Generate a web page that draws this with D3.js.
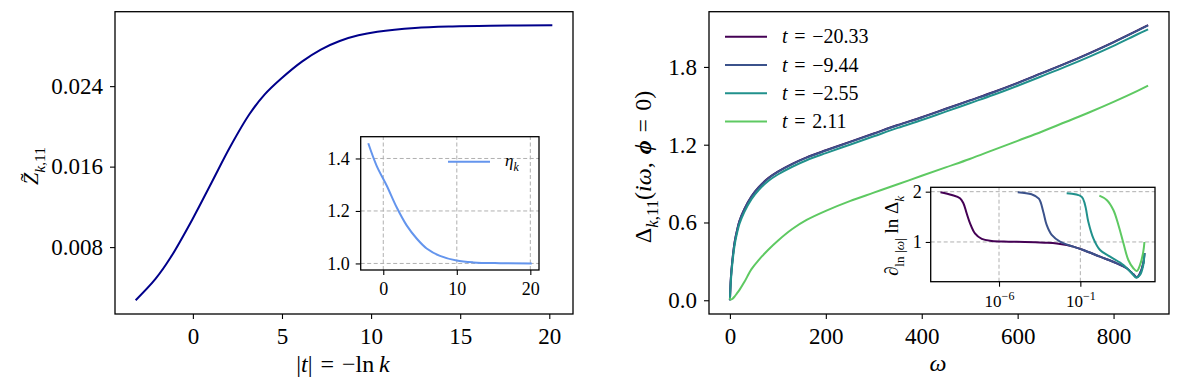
<!DOCTYPE html>
<html lang="en">
<head>
<meta charset="UTF-8">
<script src="https://d3js.org/d3.v7.min.js"></script>
<style>
  body { margin: 0; background: #fff; }
  svg text { font-family: "Liberation Serif", "DejaVu Serif", serif; fill: #000; white-space: pre; }
</style>
</head>
<body>
<svg width="1177" height="392"></svg>
<script>
// ---------- data ----------
// left panel: Z~_{k,11} against |t|
const zT   = [-3.21, -2.11, -1.27, 0, 1.06, 2.11, 3.17, 4.02, 4.96, 6.12, 7.18, 8.24, 9.29, 10.35, 12.46, 14.57, 16.68, 20.17];
const zVal = [0.00272, 0.00481, 0.00691, 0.01085, 0.01445, 0.01802, 0.0212, 0.02316, 0.02476, 0.02644, 0.02764, 0.02849, 0.02905, 0.0294, 0.02978, 0.02994, 0.03001, 0.03005];
// left inset: eta_k
const etaT   = [-2.04, -0.9, 0.46, 1.82, 3.18, 4.54, 5.9, 7.71, 9.98, 12.24, 15.88, 20.19];
const etaVal = [1.458, 1.372, 1.297, 1.214, 1.145, 1.095, 1.057, 1.029, 1.011, 1.004, 1.001, 1.0];

// right panel: Delta_{k,11}(i omega) for four t
const tLabels = ["\u221220.33", "\u22129.44", "\u22122.55", "2.11"];
const colors  = ["#440154", "#3b528b", "#21918c", "#5ec962"];
const omega = [0, 2, 5, 10, 15, 20, 30, 45, 60, 80, 100, 130, 160, 200, 250, 300, 350, 400, 450, 500, 550, 600, 650, 700, 750, 800, 850, 872];
const deltaA = [0, 0.172, 0.302, 0.452, 0.542, 0.612, 0.702, 0.802, 0.872, 0.942, 0.992, 1.052, 1.102, 1.157, 1.222, 1.287, 1.352, 1.412, 1.477, 1.542, 1.607, 1.677, 1.752, 1.827, 1.907, 1.992, 2.082, 2.123];
const deltaB = [0, 0.17, 0.30, 0.45, 0.54, 0.61, 0.70, 0.80, 0.87, 0.94, 0.99, 1.05, 1.10, 1.155, 1.22, 1.285, 1.35, 1.41, 1.475, 1.54, 1.605, 1.675, 1.75, 1.825, 1.905, 1.99, 2.08, 2.12];
const deltaC = [0, 0.15, 0.28, 0.43, 0.52, 0.59, 0.68, 0.78, 0.85, 0.92, 0.97, 1.03, 1.08, 1.135, 1.20, 1.265, 1.33, 1.39, 1.455, 1.52, 1.585, 1.655, 1.728, 1.802, 1.88, 1.963, 2.052, 2.09];
const deltaD = [0.02, 0.005, 0.01, 0.03, 0.055, 0.08, 0.14, 0.24, 0.31, 0.39, 0.46, 0.55, 0.62, 0.69, 0.765, 0.83, 0.895, 0.96, 1.025, 1.09, 1.16, 1.23, 1.30, 1.375, 1.45, 1.53, 1.615, 1.655];

// right inset: d ln Delta / d ln|omega|, x given as log10(omega)
const inLogA = [-9.6, -8.9, -8.4, -8.19, -7.99, -7.78, -7.48, -7.06, -6.45, -5.43, -4.4, -3.2, -2.45, -1.84, -1.43, -0.82, 0.21, 1.24, 1.85, 2.26, 2.47, 2.67, 2.87, 2.94];
const inValA = [1.99, 1.935, 1.87, 1.77, 1.57, 1.37, 1.17, 1.06, 1.02, 1.006, 1.0, 0.985, 0.97, 0.94, 0.907, 0.841, 0.708, 0.576, 0.477, 0.357, 0.298, 0.378, 0.576, 0.78];
const inLogB = [-4.85, -4.0, -3.55, -3.28, -3.07, -2.76, -2.25, -1.43, -0.82, 0.21, 1.24, 1.85, 2.26, 2.47, 2.67, 2.87, 2.94];
const inValB = [1.99, 1.948, 1.86, 1.6, 1.338, 1.139, 1.006, 0.907, 0.841, 0.708, 0.576, 0.477, 0.357, 0.298, 0.378, 0.576, 0.78];
const inLogC = [-1.84, -0.92, -0.71, -0.51, -0.2, 0.21, 0.83, 1.65, 2.16, 2.43, 2.67, 2.87, 2.94];
const inValC = [1.968, 1.90, 1.736, 1.404, 1.073, 0.841, 0.708, 0.543, 0.378, 0.29, 0.344, 0.543, 0.775];
const inLogD = [0.17, 0.62, 1.03, 1.34, 1.65, 1.95, 2.26, 2.47, 2.67, 2.87, 2.94];
const inValD = [1.92, 1.835, 1.636, 1.338, 0.974, 0.642, 0.477, 0.424, 0.543, 0.807, 1.0];

// ticks
const zTicksX = [0, 5, 10, 15, 20];
const zTicksY = [0.008, 0.016, 0.024];
const etaTicksX = [0, 10, 20];
const etaTicksY = [1.0, 1.2, 1.4];
const dTicksX = [0, 200, 400, 600, 800];
const dTicksY = [0.0, 0.6, 1.2, 1.8];
const inTicksX = [-6, -1];   // powers of ten
const inTicksY = [1, 2];

// ---------- helpers ----------
const svg = d3.select("svg");
svg.append("rect").attr("width", 1177).attr("height", 392).attr("fill", "#fff");

function zip(a, b) { return a.map((v, i) => [v, b[i]]); }

function styleAxis(g, size) {
  g.select(".domain").remove();
  g.selectAll(".tick line").attr("stroke", "#000").attr("stroke-width", 1.1);
  g.selectAll(".tick text").attr("font-size", size);
}

function frame(x, y) {
  return svg.append("rect")
    .attr("x", x.range()[0]).attr("y", y.range()[1])
    .attr("width", x.range()[1] - x.range()[0])
    .attr("height", y.range()[0] - y.range()[1])
    .attr("fill", "none").attr("stroke", "#000").attr("stroke-width", 1.3);
}

function bg(x, y) {
  svg.append("rect")
    .attr("x", x.range()[0]).attr("y", y.range()[1])
    .attr("width", x.range()[1] - x.range()[0])
    .attr("height", y.range()[0] - y.range()[1])
    .attr("fill", "#fff");
}

// parts: {s, it, b, sub}
function mathText(sel, parts, size) {
  let shift = 0;
  parts.forEach(p => {
    const ts = sel.append("tspan").text(p.s);
    if (p.it) ts.style("font-style", "italic");
    if (p.b) ts.style("font-weight", "bold");
    const want = p.sub ? size * 0.3 : 0;
    if (want !== shift) { ts.attr("dy", want - shift); shift = want; }
    if (p.sub) ts.attr("font-size", size * 0.7);
  });
  return sel;
}

function grid(x, y, xs, ys) {
  const g = svg.append("g").attr("stroke", "#b0b0b0").attr("stroke-width", 1).attr("stroke-dasharray", "4,2.5");
  xs.forEach(v => g.append("line").attr("x1", x(v)).attr("x2", x(v)).attr("y1", y.range()[0]).attr("y2", y.range()[1]));
  ys.forEach(v => g.append("line").attr("y1", y(v)).attr("y2", y(v)).attr("x1", x.range()[0]).attr("x2", x.range()[1]));
}

const smooth = d3.curveCatmullRom.alpha(0.5);

// ---------- left panel ----------
const xL = d3.scaleLinear().domain([-4.37, 21.33]).range([115, 573]);
const yL = d3.scaleLinear().domain([0.00135, 0.0314]).range([314, 11.7]);

svg.append("path")
  .datum(zip(zT, zVal))
  .attr("fill", "none").attr("stroke", "#00008b").attr("stroke-width", 2)
  .attr("d", d3.line().x(d => xL(d[0])).y(d => yL(d[1])).curve(smooth));

svg.append("g").attr("transform", "translate(0,314)")
  .call(d3.axisBottom(xL).tickValues(zTicksX).tickSize(5).tickPadding(9).tickSizeOuter(0))
  .call(g => styleAxis(g, 23));
svg.append("g").attr("transform", "translate(115,0)")
  .call(d3.axisLeft(yL).tickValues(zTicksY).tickFormat(d3.format(".3f")).tickSize(5).tickPadding(7).tickSizeOuter(0))
  .call(g => styleAxis(g, 23));
frame(xL, yL);

// axis labels
mathText(svg.append("text").attr("x", 343).attr("y", 372).attr("text-anchor", "middle").attr("font-size", 24),
  [{s: "|"}, {s: "t", it: true}, {s: "|\u2004=\u2004\u2212ln\u2009"}, {s: "k", it: true}], 24);

const zLab = svg.append("text").attr("transform", "translate(38,166) rotate(-90)")
  .attr("text-anchor", "middle").attr("font-size", 22);
mathText(zLab, [{s: "Z", it: true}, {s: "k", it: true, sub: true}, {s: ",11", sub: true}], 22);
// tilde over the Z
{
  const ext = zLab.node().getExtentOfChar(0);
  svg.append("text").attr("transform", "translate(38,166) rotate(-90)")
    .attr("x", ext.x + ext.width * 0.62).attr("y", -3)
    .attr("text-anchor", "middle").attr("font-size", 22).text("\u02dc");
}

// ---------- left inset ----------
const xI = d3.scaleLinear().domain([-3.07, 21.18]).range([360.7, 539]);
const yI = d3.scaleLinear().domain([0.975, 1.483]).range([270, 136.7]);
bg(xI, yI);
grid(xI, yI, etaTicksX, etaTicksY);
svg.append("path")
  .datum(zip(etaT, etaVal))
  .attr("fill", "none").attr("stroke", "#6495ed").attr("stroke-width", 2)
  .attr("d", d3.line().x(d => xI(d[0])).y(d => yI(d[1])).curve(smooth));
svg.append("g").attr("transform", "translate(0,270)")
  .call(d3.axisBottom(xI).tickValues(etaTicksX).tickSize(5).tickPadding(7).tickSizeOuter(0))
  .call(g => styleAxis(g, 18));
svg.append("g").attr("transform", "translate(360.7,0)")
  .call(d3.axisLeft(yI).tickValues(etaTicksY).tickFormat(d3.format(".1f")).tickSize(5).tickPadding(6).tickSizeOuter(0))
  .call(g => styleAxis(g, 18));
frame(xI, yI);
// legend
svg.append("line").attr("x1", 448).attr("x2", 490).attr("y1", 161.7).attr("y2", 161.7)
  .attr("stroke", "#6495ed").attr("stroke-width", 2);
mathText(svg.append("text").attr("x", 505).attr("y", 166).attr("font-size", 17),
  [{s: "\u03b7", it: true}, {s: "k", it: true, sub: true}], 17);

// ---------- right panel ----------
const xR = d3.scaleLinear().domain([-43.6, 915.6]).range([709, 1169]);
const yR = d3.scaleLinear().domain([-0.106, 2.226]).range([314, 11.7]);
const deltas = [deltaA, deltaB, deltaC, deltaD];
const lineR = d3.line().x(d => xR(d[0])).y(d => yR(d[1])).curve(smooth);
deltas.forEach((ser, i) => {
  svg.append("path").datum(zip(omega, ser))
    .attr("fill", "none").attr("stroke", colors[i]).attr("stroke-width", 2)
    .attr("d", lineR);
});
svg.append("g").attr("transform", "translate(0,314)")
  .call(d3.axisBottom(xR).tickValues(dTicksX).tickSize(5).tickPadding(9).tickSizeOuter(0))
  .call(g => styleAxis(g, 23));
svg.append("g").attr("transform", "translate(709,0)")
  .call(d3.axisLeft(yR).tickValues(dTicksY).tickFormat(d3.format(".1f")).tickSize(5).tickPadding(7).tickSizeOuter(0))
  .call(g => styleAxis(g, 23));
frame(xR, yR);

mathText(svg.append("text").attr("x", 938).attr("y", 371).attr("text-anchor", "middle").attr("font-size", 24),
  [{s: "\u03c9", it: true}], 24);
mathText(svg.append("text").attr("transform", "translate(651,167) rotate(-90)").attr("text-anchor", "middle").attr("font-size", 24),
  [{s: "\u0394"}, {s: "k", it: true, sub: true}, {s: ",11", sub: true}, {s: "("}, {s: "i\u03c9", it: true}, {s: ",\u2004"},
   {s: "\u03d5", it: true, b: true}, {s: "\u2004=\u20040)"}], 24);

// legend
const leg = svg.append("g");
tLabels.forEach((lab, i) => {
  const y = 36.7 + i * 28.3;
  leg.append("line").attr("x1", 725).attr("x2", 767).attr("y1", y).attr("y2", y)
    .attr("stroke", colors[i]).attr("stroke-width", 2);
  mathText(leg.append("text").attr("x", 782).attr("y", y + 6.5).attr("font-size", 20),
    [{s: "t", it: true}, {s: "\u2004=\u2004" + lab}], 20);
});

// ---------- right inset ----------
const xJ = d3.scaleLog().domain([Math.pow(10, -10.2), Math.pow(10, 3.59)]).range([930.7, 1155]);
const yJ = d3.scaleLinear().domain([0.21, 2.087]).range([281.7, 187.3]);
bg(xJ, yJ);
grid(xJ, yJ, inTicksX.map(e => Math.pow(10, e)), inTicksY);
const insetSeries = [[inLogA, inValA], [inLogB, inValB], [inLogC, inValC], [inLogD, inValD]];
const lineJ = d3.line().x(d => xJ(Math.pow(10, d[0]))).y(d => yJ(d[1])).curve(smooth);
insetSeries.forEach((s, i) => {
  svg.append("path").datum(zip(s[0], s[1]))
    .attr("fill", "none").attr("stroke", colors[i]).attr("stroke-width", 2)
    .attr("d", lineJ);
});
svg.append("g").attr("transform", "translate(0,281.7)")
  .call(d3.axisBottom(xJ).tickValues(inTicksX.map(e => Math.pow(10, e))).tickFormat("").tickSize(5).tickPadding(8).tickSizeOuter(0))
  .call(g => styleAxis(g, 17))
  .call(g => g.selectAll(".tick text").each(function(d, i) {
    const t = d3.select(this);
    t.append("tspan").text("10");
    t.append("tspan").attr("dy", -7).attr("font-size", 12).text("\u2212" + (-inTicksX[i]));
  }));
svg.append("g").attr("transform", "translate(930.7,0)")
  .call(d3.axisLeft(yJ).tickValues(inTicksY).tickFormat(d3.format("d")).tickSize(5).tickPadding(4).tickSizeOuter(0))
  .call(g => styleAxis(g, 18));
frame(xJ, yJ);

mathText(svg.append("text").attr("transform", "translate(898,236) rotate(-90)").attr("text-anchor", "middle").attr("font-size", 19),
  [{s: "\u2202"}, {s: "ln |", sub: true}, {s: "\u03c9", it: true, sub: true}, {s: "|", sub: true}, {s: " ln \u0394"}, {s: "k", it: true, sub: true}], 19);
</script>
</body>
</html>
